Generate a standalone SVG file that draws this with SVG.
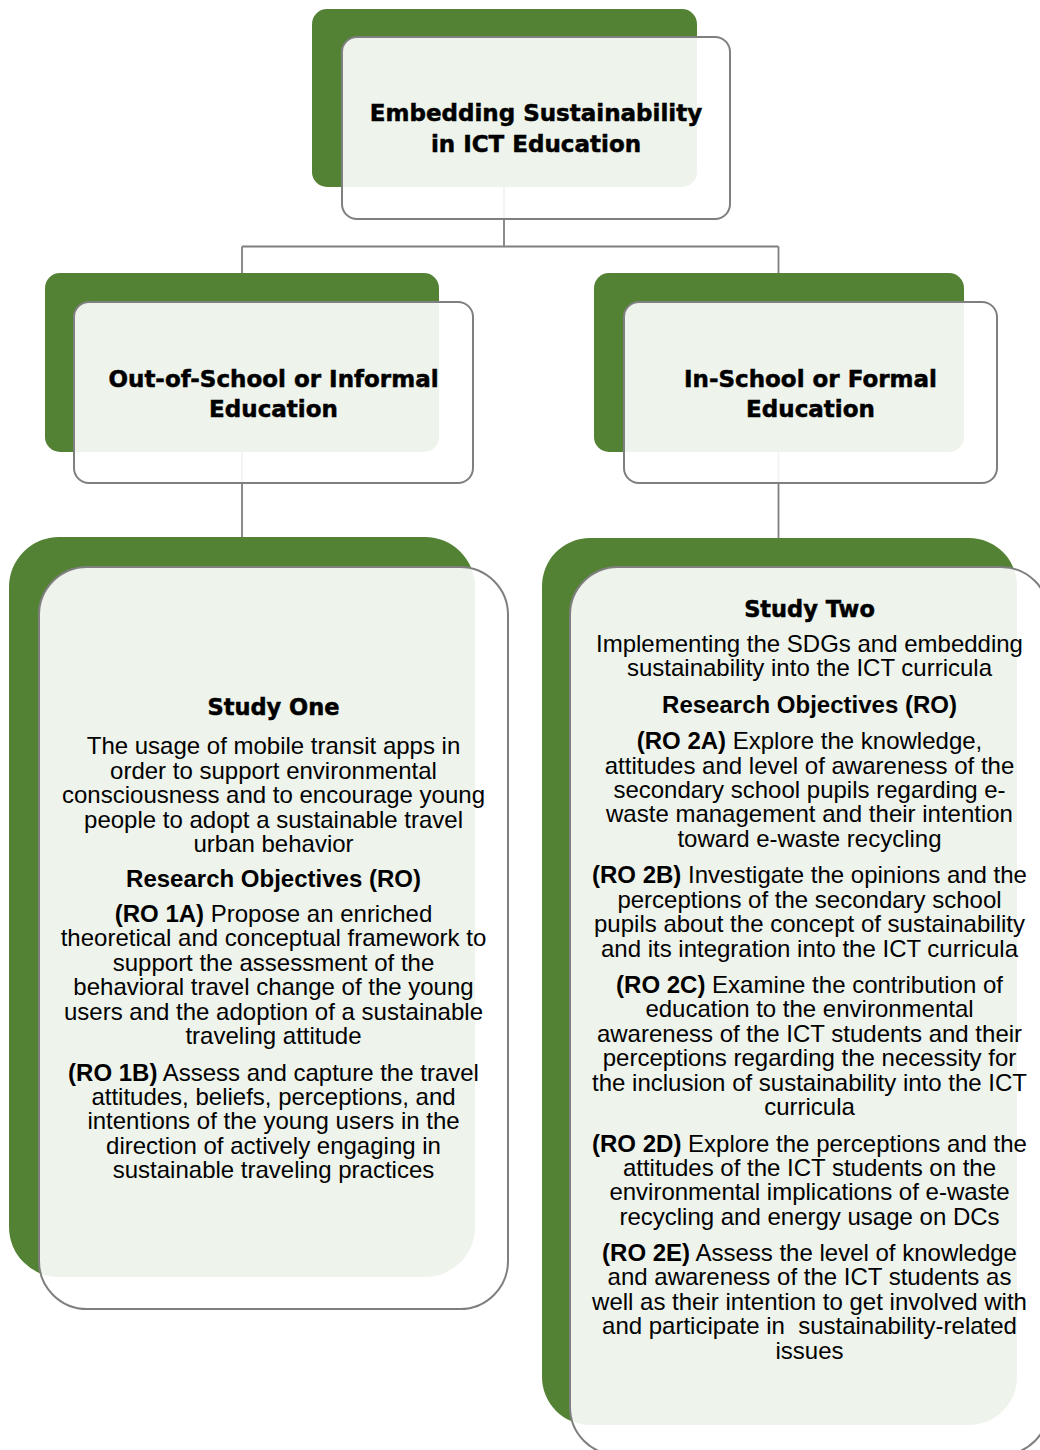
<svg xmlns="http://www.w3.org/2000/svg" width="1040" height="1450" viewBox="0 0 1040 1450">
  <style>
    .back { fill: #548235; }
    .card { fill: #ffffff; fill-opacity: 0.9; stroke: #7f7f7f; stroke-width: 2; }
    .wire { stroke: #7f7f7f; stroke-width: 1.8; fill: none; }
    .head { font-family: "DejaVu Sans", "Liberation Sans", sans-serif; font-weight: bold; font-size: 22.5px; fill: #000; stroke: #000; stroke-width: 0.5; text-anchor: middle; }
    .body { font-family: "Liberation Sans", Arial, sans-serif; font-size: 24px; fill: #000; text-anchor: middle; white-space: pre; }
    .b { font-weight: bold; }
  </style>

  <rect x="0" y="0" width="1040" height="1450" fill="#ffffff"/>

  <!-- connectors (drawn first so the translucent cards soften them) -->
  <g id="connectors">
    <path class="wire" d="M504,187 V246.5"/>
    <path class="wire" d="M242,246.5 H778.5"/>
    <path class="wire" d="M242,246.5 V273"/>
    <path class="wire" d="M778.5,246.5 V273"/>
    <path class="wire" d="M242,452 V537"/>
    <path class="wire" d="M778.5,452 V538"/>
  </g>

  <!-- root -->
  <g id="node-root">
    <rect class="back" x="312" y="9" width="385" height="178" rx="15"/>
    <rect class="card" x="342" y="37" width="388" height="182" rx="15"/>
    <text class="head" x="536" y="121" style="font-size:23px">Embedding Sustainability</text>
    <text class="head" x="536" y="151.5" style="font-size:23px">in ICT Education</text>
  </g>

  <!-- informal branch -->
  <g id="node-informal">
    <rect class="back" x="45" y="273" width="394" height="179" rx="15"/>
    <rect class="card" x="74" y="302" width="399" height="181" rx="15"/>
    <text class="head" x="273.5" y="386.5" style="font-size:23px">Out-of-School or Informal</text>
    <text class="head" x="273.5" y="417" style="font-size:23px">Education</text>
  </g>

  <!-- formal branch -->
  <g id="node-formal">
    <rect class="back" x="594" y="273" width="370" height="179" rx="15"/>
    <rect class="card" x="624" y="302" width="373" height="181" rx="15"/>
    <text class="head" x="810.5" y="386.5" style="font-size:23px">In-School or Formal</text>
    <text class="head" x="810.5" y="417" style="font-size:23px">Education</text>
  </g>

  <!-- study one -->
  <g id="node-study-one">
    <rect class="back" x="9" y="537" width="466" height="740" rx="50"/>
    <rect class="card" x="39" y="567" width="469" height="742" rx="48"/>
    <text class="head" x="273.5" y="715">Study One</text>
    <text class="body" x="273.5" y="754.3">The usage of mobile transit apps in</text>
    <text class="body" x="273.5" y="778.7">order to support environmental</text>
    <text class="body" x="273.5" y="803.1">consciousness and to encourage young</text>
    <text class="body" x="273.5" y="827.5">people to adopt a sustainable travel</text>
    <text class="body" x="273.5" y="851.9">urban behavior</text>
    <text class="body b" x="273.5" y="887">Research Objectives (RO)</text>
    <text class="body" x="273.5" y="922"><tspan class="b">(RO 1A)</tspan> Propose an enriched</text>
    <text class="body" x="273.5" y="946.4">theoretical and conceptual framework to</text>
    <text class="body" x="273.5" y="970.8">support the assessment of the</text>
    <text class="body" x="273.5" y="995.2">behavioral travel change of the young</text>
    <text class="body" x="273.5" y="1019.6">users and the adoption of a sustainable</text>
    <text class="body" x="273.5" y="1044">traveling attitude</text>
    <text class="body" x="273.5" y="1080.5"><tspan class="b">(RO 1B)</tspan> Assess and capture the travel</text>
    <text class="body" x="273.5" y="1104.9">attitudes, beliefs, perceptions, and</text>
    <text class="body" x="273.5" y="1129.3">intentions of the young users in the</text>
    <text class="body" x="273.5" y="1153.7">direction of actively engaging in</text>
    <text class="body" x="273.5" y="1178.1">sustainable traveling practices</text>
  </g>

  <!-- study two -->
  <g id="node-study-two">
    <rect class="back" x="542" y="538" width="475" height="887" rx="48"/>
    <rect class="card" x="570" y="567" width="479" height="888" rx="48"/>
    <text class="head" x="809.5" y="617">Study Two</text>
    <text class="body" x="809.5" y="652">Implementing the SDGs and embedding</text>
    <text class="body" x="809.5" y="676.4">sustainability into the ICT curricula</text>
    <text class="body b" x="809.5" y="712.8">Research Objectives (RO)</text>
    <text class="body" x="809.5" y="749.2"><tspan class="b">(RO 2A)</tspan> Explore the knowledge,</text>
    <text class="body" x="809.5" y="773.6">attitudes and level of awareness of the</text>
    <text class="body" x="809.5" y="798">secondary school pupils regarding e-</text>
    <text class="body" x="809.5" y="822.4">waste management and their intention</text>
    <text class="body" x="809.5" y="846.8">toward e-waste recycling</text>
    <text class="body" x="809.5" y="883.3"><tspan class="b">(RO 2B)</tspan> Investigate the opinions and the</text>
    <text class="body" x="809.5" y="907.7">perceptions of the secondary school</text>
    <text class="body" x="809.5" y="932.1">pupils about the concept of sustainability</text>
    <text class="body" x="809.5" y="956.5">and its integration into the ICT curricula</text>
    <text class="body" x="809.5" y="993"><tspan class="b">(RO 2C)</tspan> Examine the contribution of</text>
    <text class="body" x="809.5" y="1017.4">education to the environmental</text>
    <text class="body" x="809.5" y="1041.8">awareness of the ICT students and their</text>
    <text class="body" x="809.5" y="1066.2">perceptions regarding the necessity for</text>
    <text class="body" x="809.5" y="1090.6">the inclusion of sustainability into the ICT</text>
    <text class="body" x="809.5" y="1115">curricula</text>
    <text class="body" x="809.5" y="1151.5"><tspan class="b">(RO 2D)</tspan> Explore the perceptions and the</text>
    <text class="body" x="809.5" y="1175.9">attitudes of the ICT students on the</text>
    <text class="body" x="809.5" y="1200.3">environmental implications of e-waste</text>
    <text class="body" x="809.5" y="1224.7">recycling and energy usage on DCs</text>
    <text class="body" x="809.5" y="1261"><tspan class="b">(RO 2E)</tspan> Assess the level of knowledge</text>
    <text class="body" x="809.5" y="1285.4">and awareness of the ICT students as</text>
    <text class="body" x="809.5" y="1309.8">well as their intention to get involved with</text>
    <text class="body" x="809.5" y="1334.2">and participate in  sustainability-related</text>
    <text class="body" x="809.5" y="1358.6">issues</text>
  </g>
</svg>
